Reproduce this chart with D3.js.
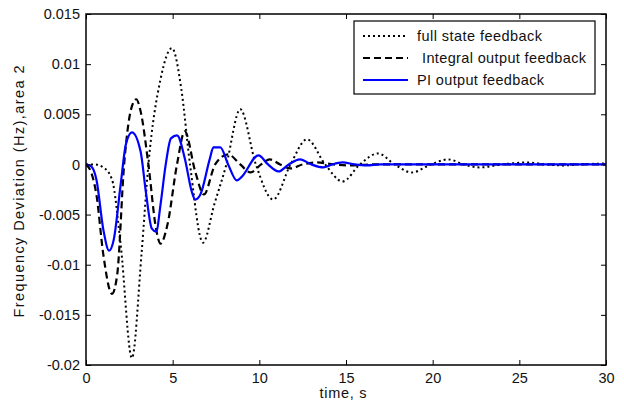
<!DOCTYPE html>
<html><head><meta charset="utf-8">
<script src="https://cdn.jsdelivr.net/npm/d3@7"></script>
<style>body{margin:0;background:#fff}svg{display:block;font-family:"Liberation Sans",Arial,sans-serif}</style>
</head><body><svg id="c" width="624" height="410"></svg>
<script>
const xTicks=[0,5,10,15,20,25,30];
const yTicks=[-0.02,-0.015,-0.01,-0.005,0,0.005,0.01,0.015];
const yTickLabels=["-0.02","-0.015","-0.01","-0.005","0","0.005","0.01","0.015"];
const seriesNames=["full state feedback"," Integral output feedback","PI output feedback"];
const fullT=[0,0.5,1.0,1.5,2.0,2.65,3.2,3.6,4.3,4.96,5.5,6.0,6.75,7.4,8.1,8.9,9.8,10.8,11.8,12.75,13.8,14.8,15.8,16.85,17.8,18.8,19.9,20.9,21.8,22.7,24.0,25.5,26.5,27.5,28.5,30];
const fullV=[0,0,-0.0003,-0.0015,-0.008,-0.0193,-0.009,0,0.0085,0.0116,0.0075,0,-0.0078,-0.004,0,0.0055,0,-0.0035,0,0.0025,0,-0.0017,0,0.0011,0,-0.0008,0,0.0005,0,-0.0003,0,0.0002,0,-0.0001,0,0.0001];
const intT=[0,0.3,0.6,1.0,1.5,1.8,2.2,2.6,2.9,3.15,3.6,4.05,4.3,4.7,5.25,5.7,6.3,6.8,7.45,8.2,8.9,9.5,10.1,10.6,11.2,11.8,12.5,13.3,14.3,15.2,16.5,30];
const intV=[0,-0.0008,-0.003,-0.009,-0.0129,-0.011,0,0.0055,0.0065,0.0053,0,-0.0065,-0.0079,-0.006,0,0.0033,-0.0007,-0.003,0,0.001,0,-0.0008,0,0.0005,0,-0.0004,0,0.0002,0,-0.0001,0,0];
const piT=[0,0.3,0.6,1.0,1.33,1.6,2.0,2.3,2.65,3.15,3.45,3.8,4.05,4.3,4.6,4.9,5.25,5.7,6.1,6.3,6.6,7.15,7.35,7.75,8.2,8.7,8.95,9.95,10.5,11.1,11.7,12.35,13.0,13.7,14.2,14.8,15.5,16.2,17,30];
const piV=[0,-0.0002,-0.0015,-0.0065,-0.0086,-0.0075,-0.002,0.002,0.0032,0.0013,-0.0027,-0.0064,-0.0067,-0.004,0,0.0026,0.0029,0.0006,-0.0027,-0.0035,-0.003,0.0006,0.0017,0.0017,0,-0.0016,-0.0013,0.0009,0,-0.0007,0,0.0005,0,-0.0003,0,0.0002,0,-0.0001,0,0];

const svg=d3.select("#c");
const L=86,R=606,T=14,B=365;
const x=d3.scaleLinear().domain([0,30]).range([L,R]);
const y=d3.scaleLinear().domain([-0.02,0.015]).range([B,T]);
const fs=14.5;
const ink="#111";

const line=d3.line().x(d=>x(d[0])).y(d=>y(d[1])).curve(d3.curveMonotoneX);
svg.append("clipPath").attr("id","cp").append("rect").attr("x",L).attr("y",T).attr("width",R-L).attr("height",B-T);
const g=svg.append("g").attr("clip-path","url(#cp)");
const series=[
 {t:fullT,v:fullV,color:"#000",dash:"2,3",w:2},
 {t:intT,v:intV,color:"#000",dash:"7,4",w:2.2},
 {t:piT,v:piV,color:"#0000ff",dash:null,w:2.2}
];
series.forEach(s=>{
  g.append("path").datum(s.t.map((t,i)=>[t,s.v[i]])).attr("d",line)
   .attr("fill","none").attr("stroke",s.color).attr("stroke-width",s.w)
   .attr("stroke-dasharray",s.dash);
});

// axes with inward ticks
const ax=svg.append("g").attr("transform",`translate(0,${B})`).call(d3.axisBottom(x).tickValues(xTicks).tickSize(-5).tickPadding(8).tickFormat(d3.format("d")));
const axT=svg.append("g").attr("transform",`translate(0,${T})`).call(d3.axisTop(x).tickValues(xTicks).tickSize(-5).tickFormat(""));
const ay=svg.append("g").attr("transform",`translate(${L},0)`).call(d3.axisLeft(y).tickValues(yTicks).tickSize(-5).tickPadding(6).tickFormat((d,i)=>yTickLabels[i]));
const ayR=svg.append("g").attr("transform",`translate(${R},0)`).call(d3.axisRight(y).tickValues(yTicks).tickSize(-5).tickFormat(""));
[ax,axT,ay,ayR].forEach(a=>{
  a.select(".domain").remove();
  a.selectAll("line").attr("stroke","#000").attr("stroke-width",1);
  a.selectAll("text").attr("font-size",fs).attr("fill",ink).attr("font-family","Liberation Sans, Arial, sans-serif");
});
svg.append("rect").attr("x",L).attr("y",T).attr("width",R-L).attr("height",B-T)
  .attr("fill","none").attr("stroke","#000").attr("stroke-width",1.5);

svg.append("text").attr("x",(L+R)/2-3).attr("y",398).attr("text-anchor","middle")
  .attr("font-size",fs).attr("fill",ink).attr("textLength",47).attr("lengthAdjust","spacing").text("time, s");
svg.append("text").attr("transform",`translate(24,${(T+B)/2+2}) rotate(-90)`).attr("text-anchor","middle")
  .attr("font-size",fs).attr("fill",ink).attr("textLength",252).attr("lengthAdjust","spacing").text("Frequency Deviation (Hz),area 2");

// legend
const lg=svg.append("g");
lg.append("rect").attr("x",354).attr("y",21).attr("width",241).attr("height",73)
  .attr("fill","#fff").attr("stroke","#000").attr("stroke-width",1.2);
const rows=[36,58,80];
const textX=[417,422,417];
const textW=[125,164,127];
series.forEach((s,i)=>{
  lg.append("line").attr("x1",363).attr("x2",408).attr("y1",rows[i]).attr("y2",rows[i])
    .attr("stroke",s.color).attr("stroke-width",s.w).attr("stroke-dasharray",s.dash);
  lg.append("text").attr("x",textX[i]).attr("y",rows[i]+5).attr("font-size",fs).attr("fill",ink)
    .attr("textLength",textW[i]).attr("lengthAdjust","spacing").text(seriesNames[i].trim());
});
</script></body></html>
